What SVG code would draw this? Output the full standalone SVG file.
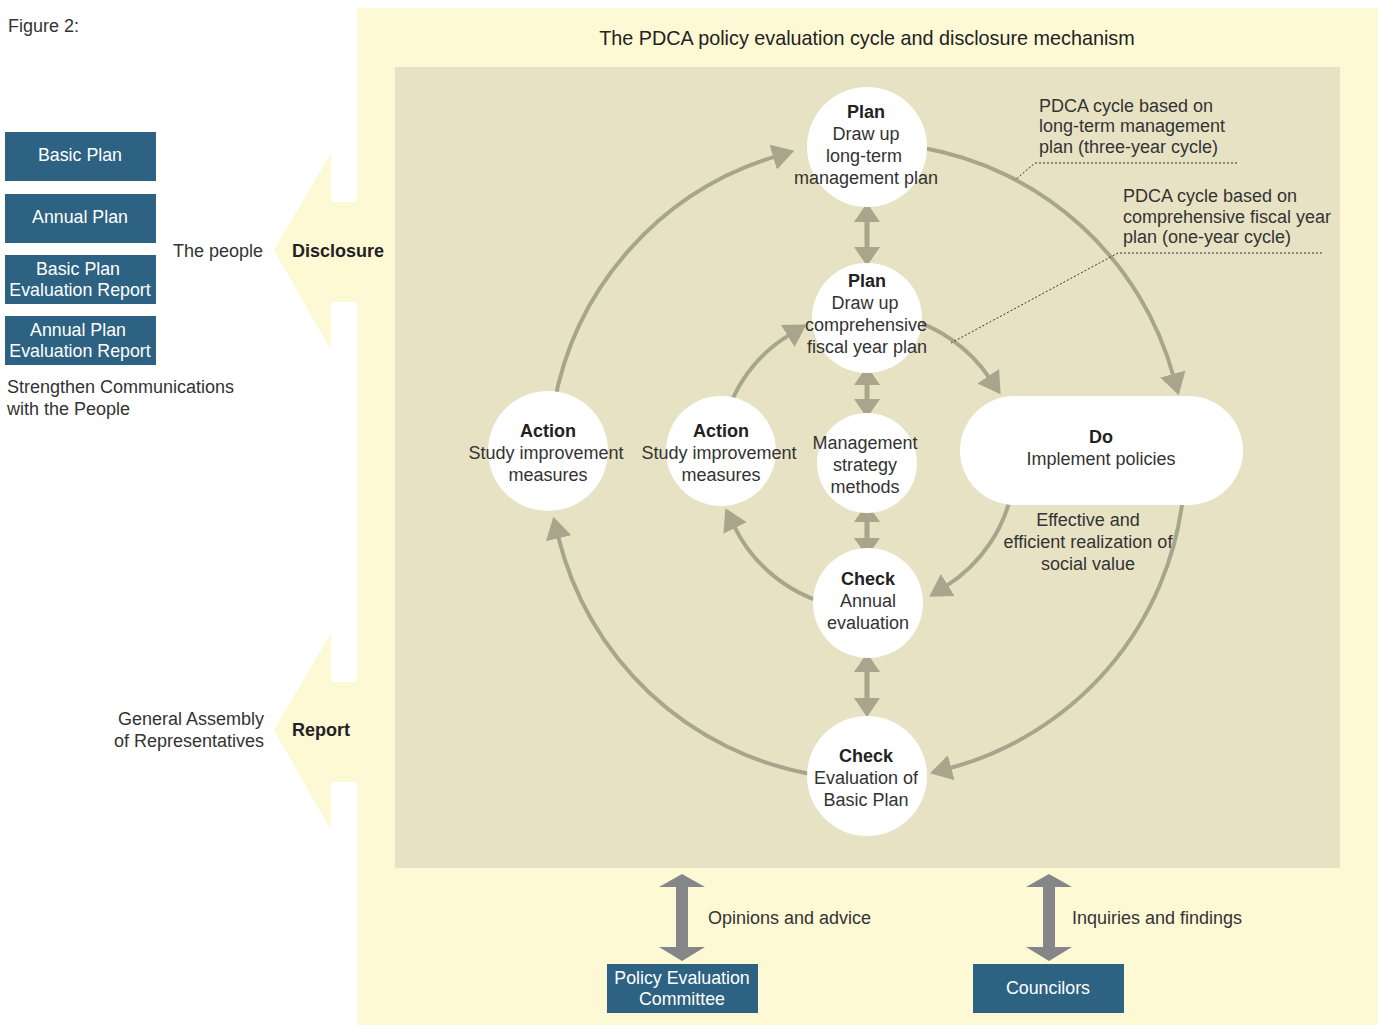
<svg xmlns="http://www.w3.org/2000/svg" width="1380" height="1025" viewBox="0 0 1380 1025">
<defs>
<style>
.t{font-family:"Liberation Sans",Arial,sans-serif;font-size:18px;fill:#333;}
.b{font-weight:bold;fill:#222;}
.c{text-anchor:middle;}
.r{text-anchor:end;}
.w{fill:#fff;font-size:17.8px;}
.box{fill:#2D6283;}
.node{fill:#fff;}
.arc{fill:none;stroke:#A8A58D;stroke-width:4;}
.va{fill:none;stroke:#A8A58D;stroke-width:5;}
.dot{fill:none;stroke:#333;stroke-width:1;stroke-dasharray:2 2;}
</style>
<marker id="ah" markerUnits="userSpaceOnUse" viewBox="0 0 22 26" markerWidth="22" markerHeight="26" refX="2" refY="13" orient="auto">
<path d="M0,0 L22,13 L0,26 z" fill="#A8A58D"/>
</marker>
<marker id="dh" markerUnits="userSpaceOnUse" viewBox="0 0 19 26" markerWidth="19" markerHeight="26" refX="1" refY="13" orient="auto-start-reverse">
<path d="M0,0 L19,13 L0,26 z" fill="#A8A58D"/>
</marker>
</defs>

<g id="background">
<rect x="357" y="8" width="1021" height="1017" fill="#FEF9D5"/>
<polygon points="274,250 331,153 331,202 358,202 358,302 331,302 331,350" fill="#FEF9D5"/>
<polygon points="274,730 331,633 331,682 358,682 358,782 331,782 331,830" fill="#FEF9D5"/>
<rect x="395" y="67" width="945" height="801" fill="#E8E2C4"/>
</g>

<text class="t" x="8" y="32">Figure 2:</text>
<text class="t c" x="867" y="45" style="font-size:19.8px;fill:#222">The PDCA policy evaluation cycle and disclosure mechanism</text>

<g id="connectors">
<path class="arc" d="M922.2,147.8 A318,318 0 0 1 1173.4,376.0" marker-end="url(#ah)"/>
<path class="arc" d="M1183.3,494.2 A318,318 0 0 1 949.3,768.2" marker-end="url(#ah)"/>
<path class="arc" d="M811.8,774.2 A318,318 0 0 1 558.1,536.3" marker-end="url(#ah)"/>
<path class="arc" d="M553.8,405.8 A318,318 0 0 1 775.1,156.6" marker-end="url(#ah)"/>
<path class="arc" d="M727.9,410.4 A148,148 0 0 1 789.4,334.9" marker-end="url(#ah)"/>
<path class="arc" d="M905.3,318.0 A148,148 0 0 1 989.4,377.8" marker-end="url(#ah)"/>
<path class="arc" d="M1012.8,486.7 A148,148 0 0 1 946.1,586.1" marker-end="url(#ah)"/>
<path class="arc" d="M841.3,606.8 A148,148 0 0 1 734.2,526.3" marker-end="url(#ah)"/>
<path class="va" d="M867,221 L867,248" marker-start="url(#dh)" marker-end="url(#dh)"/>
<path class="va" d="M867,384 L867,400" marker-start="url(#dh)" marker-end="url(#dh)"/>
<path class="va" d="M867,521 L867,539" marker-start="url(#dh)" marker-end="url(#dh)"/>
<path class="va" d="M867,671 L867,699" marker-start="url(#dh)" marker-end="url(#dh)"/>
<polygon points="682,874 705,887 688,887 688,947 705,947 682,961 659,947 676,947 676,887 659,887" fill="#85868A"/>
<polygon points="1049,874 1072,887 1055,887 1055,947 1072,947 1049,961 1026,947 1043,947 1043,887 1026,887" fill="#85868A"/>
<path class="dot" d="M1237,163 L1035,163 L1015,180"/>
<path class="dot" d="M1322,253 L1118,253 L951,343"/>
</g>

<g id="node-plan-top">
<circle class="node" cx="867" cy="147" r="60"/>
<text class="t c b" x="866" y="118">Plan</text>
<text class="t c" x="866" y="140">Draw up</text>
<text class="t c" x="864" y="162">long-term</text>
<text class="t c" x="866" y="184">management plan</text>
</g>

<g id="node-plan-fiscal">
<circle class="node" cx="867" cy="318" r="55"/>
<text class="t c b" x="867" y="287">Plan</text>
<text class="t c" x="865" y="309">Draw up</text>
<text class="t c" x="866" y="331">comprehensive</text>
<text class="t c" x="867" y="353">fiscal year plan</text>
</g>

<g id="node-management">
<circle class="node" cx="867" cy="463" r="50"/>
<text class="t c" x="865" y="449">Management</text>
<text class="t c" x="865" y="471">strategy</text>
<text class="t c" x="865" y="493">methods</text>
</g>

<g id="node-check-annual">
<circle class="node" cx="868" cy="603" r="55"/>
<text class="t c b" x="868" y="585">Check</text>
<text class="t c" x="868" y="607">Annual</text>
<text class="t c" x="868" y="629">evaluation</text>
</g>

<g id="node-check-basic">
<circle class="node" cx="867" cy="776" r="60"/>
<text class="t c b" x="866" y="762">Check</text>
<text class="t c" x="866" y="784">Evaluation of</text>
<text class="t c" x="866" y="806">Basic Plan</text>
</g>

<g id="node-action-outer">
<circle class="node" cx="548" cy="451" r="60"/>
<text class="t c b" x="548" y="437">Action</text>
<text class="t c" x="546" y="459">Study improvement</text>
<text class="t c" x="548" y="481">measures</text>
</g>

<g id="node-action-inner">
<circle class="node" cx="721" cy="451" r="55"/>
<text class="t c b" x="721" y="437">Action</text>
<text class="t c" x="719" y="459">Study improvement</text>
<text class="t c" x="721" y="481">measures</text>
</g>

<g id="node-do">
<rect class="node" x="960" y="396" width="283" height="109" rx="54.5"/>
<text class="t c b" x="1101" y="443">Do</text>
<text class="t c" x="1101" y="465">Implement policies</text>
</g>

<g id="labels">
<text class="t c" x="1088" y="526">Effective and</text>
<text class="t c" x="1088" y="548">efficient realization of</text>
<text class="t c" x="1088" y="570">social value</text>
<text class="t" x="1039" y="112">PDCA cycle based on</text>
<text class="t" x="1039" y="132">long-term management</text>
<text class="t" x="1039" y="153">plan (three-year cycle)</text>
<text class="t" x="1123" y="202">PDCA cycle based on</text>
<text class="t" x="1123" y="223">comprehensive fiscal year</text>
<text class="t" x="1123" y="243">plan (one-year cycle)</text>
<text class="t r" x="263" y="257">The people</text>
<text class="t b" x="292" y="257">Disclosure</text>
<text class="t" x="7" y="393">Strengthen Communications</text>
<text class="t" x="7" y="415">with the People</text>
<text class="t r" x="264" y="725">General Assembly</text>
<text class="t r" x="264" y="747">of Representatives</text>
<text class="t b" x="292" y="736">Report</text>
<text class="t" x="708" y="924">Opinions and advice</text>
<text class="t" x="1072" y="924">Inquiries and findings</text>
</g>

<g id="node-basic-plan">
<rect class="box" x="5" y="132" width="151" height="49"/>
<text class="t c w" x="80" y="161">Basic Plan</text>
</g>
<g id="node-annual-plan">
<rect class="box" x="5" y="194" width="151" height="49"/>
<text class="t c w" x="80" y="223">Annual Plan</text>
</g>
<g id="node-basic-plan-report">
<rect class="box" x="5" y="255" width="151" height="49"/>
<text class="t c w" x="78" y="275">Basic Plan</text>
<text class="t c w" x="80" y="296">Evaluation Report</text>
</g>
<g id="node-annual-plan-report">
<rect class="box" x="5" y="316" width="151" height="49"/>
<text class="t c w" x="78" y="336">Annual Plan</text>
<text class="t c w" x="80" y="357">Evaluation Report</text>
</g>
<g id="node-policy-committee">
<rect class="box" x="607" y="964" width="151" height="49"/>
<text class="t c w" x="682" y="984">Policy Evaluation</text>
<text class="t c w" x="682" y="1005">Committee</text>
</g>
<g id="node-councilors">
<rect class="box" x="973" y="964" width="151" height="49"/>
<text class="t c w" x="1048" y="994">Councilors</text>
</g>
</svg>
